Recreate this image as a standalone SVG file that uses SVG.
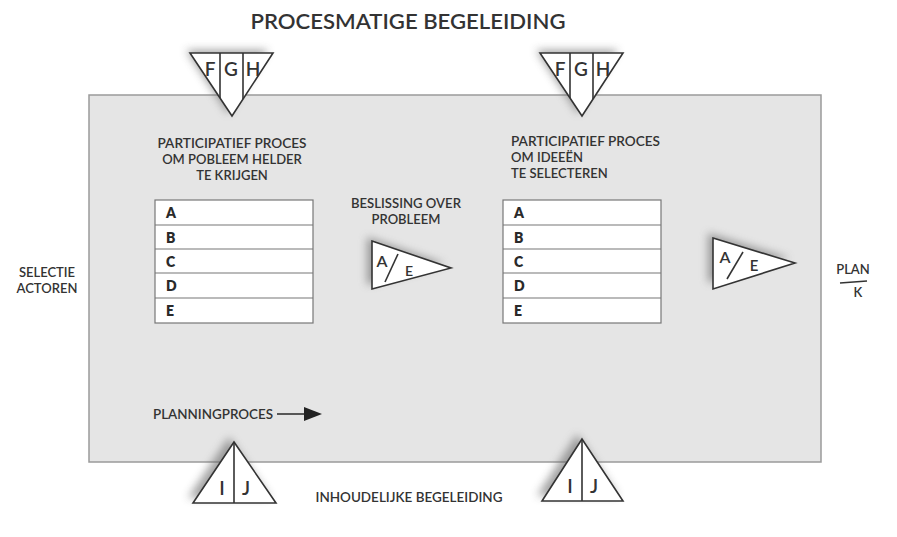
<svg xmlns="http://www.w3.org/2000/svg" width="897" height="537" viewBox="0 0 897 537">
<defs>
<style>
.t{font-family:Lato,"Open Sans","Liberation Sans",Arial,sans-serif;fill:#333333;font-weight:600;}
.lbl{font-size:13px;}
.tab{font-size:14px;font-weight:800;fill:#2a2a2a;}
.big{font-size:19px;}
.mid{font-size:16px;}
.shape{fill:#ffffff;stroke:#333;stroke-width:1.6;}
.ln{stroke:#333;stroke-width:1.6;fill:none;}
.row{fill:#fff;stroke:#777;stroke-width:1.2;}
.shd{fill:#666;opacity:0.6;}
</style>
<filter id="sh" x="-30%" y="-30%" width="160%" height="160%">
<feGaussianBlur stdDeviation="4"/>
</filter>
</defs>
<rect width="897" height="537" fill="#ffffff"/>
<text class="t" x="408" y="29" font-size="21" text-anchor="middle" textLength="315" lengthAdjust="spacingAndGlyphs">PROCESMATIGE BEGELEIDING</text>
<g id="panel">
<rect x="89" y="95" width="732" height="367" fill="#e5e5e5" stroke="#9a9a9a" stroke-width="1.5"/>
</g>
<g id="fgh-left">
<polygon class="shd" points="186,50 268,50 228,114" filter="url(#sh)"/>
<polygon class="shape" points="190,53 273,53 232,116"/>
<line class="ln" x1="220" y1="53" x2="220" y2="98"/>
<line class="ln" x1="243" y1="53" x2="243" y2="99"/>
<text class="t big" x="210" y="76" text-anchor="middle">F</text>
<text class="t big" x="231" y="76" text-anchor="middle">G</text>
<text class="t big" x="253" y="76" text-anchor="middle">H</text>
</g>
<g id="fgh-right">
<polygon class="shd" points="536,50 618,50 578,114" filter="url(#sh)"/>
<polygon class="shape" points="540,53 623,53 582,116"/>
<line class="ln" x1="570" y1="53" x2="570" y2="98"/>
<line class="ln" x1="593" y1="53" x2="593" y2="99"/>
<text class="t big" x="560" y="76" text-anchor="middle">F</text>
<text class="t big" x="581" y="76" text-anchor="middle">G</text>
<text class="t big" x="603" y="76" text-anchor="middle">H</text>
</g>
<g id="text-left">
<text class="t lbl" x="232" y="148" text-anchor="middle" textLength="149" lengthAdjust="spacingAndGlyphs">PARTICIPATIEF PROCES</text>
<text class="t lbl" x="232" y="164" text-anchor="middle">OM POBLEEM HELDER</text>
<text class="t lbl" x="232" y="180" text-anchor="middle">TE KRIJGEN</text>
</g>
<g id="text-right">
<text class="t lbl" x="511" y="146" textLength="149" lengthAdjust="spacingAndGlyphs">PARTICIPATIEF PROCES</text>
<text class="t lbl" x="511" y="162">OM IDEEËN</text>
<text class="t lbl" x="511" y="178">TE SELECTEREN</text>
</g>
<g id="table-left">
<rect class="row" x="155" y="200" width="158" height="123"/>
<line class="row" x1="155" y1="225" x2="313" y2="225"/>
<line class="row" x1="155" y1="249" x2="313" y2="249"/>
<line class="row" x1="155" y1="273" x2="313" y2="273"/>
<line class="row" x1="155" y1="298" x2="313" y2="298"/>
<text class="t tab" x="166" y="218">A</text>
<text class="t tab" x="166" y="243">B</text>
<text class="t tab" x="166" y="267">C</text>
<text class="t tab" x="166" y="291">D</text>
<text class="t tab" x="166" y="316">E</text>
</g>
<g id="table-right">
<rect class="row" x="503" y="200" width="158" height="123"/>
<line class="row" x1="503" y1="225" x2="661" y2="225"/>
<line class="row" x1="503" y1="249" x2="661" y2="249"/>
<line class="row" x1="503" y1="273" x2="661" y2="273"/>
<line class="row" x1="503" y1="298" x2="661" y2="298"/>
<text class="t tab" x="514" y="218">A</text>
<text class="t tab" x="514" y="243">B</text>
<text class="t tab" x="514" y="267">C</text>
<text class="t tab" x="514" y="291">D</text>
<text class="t tab" x="514" y="316">E</text>
</g>
<g id="beslissing">
<text class="t lbl" x="406" y="208" text-anchor="middle" textLength="110" lengthAdjust="spacingAndGlyphs">BESLISSING OVER</text>
<text class="t lbl" x="406" y="224" text-anchor="middle">PROBLEEM</text>
</g>
<g id="ae-left">
<polygon class="shd" points="367,237 445,264 367,285" filter="url(#sh)"/>
<polygon class="shape" points="372,241 451,268 372,289"/>
<line class="ln" x1="398" y1="254" x2="385" y2="282"/>
<text class="t mid" x="382" y="267" text-anchor="middle">A</text>
<text class="t" x="409" y="276" text-anchor="middle" font-size="14">E</text>
</g>
<g id="ae-right">
<polygon class="shd" points="708,233 789,258 708,283" filter="url(#sh)"/>
<polygon class="shape" points="713,238 795,263 713,289"/>
<line class="ln" x1="743" y1="252" x2="727" y2="279"/>
<text class="t mid" x="725" y="263" text-anchor="middle">A</text>
<text class="t" x="754" y="271" text-anchor="middle" font-size="15">E</text>
</g>
<g id="selectie">
<text class="t lbl" x="47" y="277" text-anchor="middle">SELECTIE</text>
<text class="t lbl" x="47" y="293" text-anchor="middle">ACTOREN</text>
</g>
<g id="plan">
<text class="t lbl" x="853" y="274" text-anchor="middle">PLAN</text>
<line class="ln" x1="840" y1="283" x2="867" y2="281"/>
<text class="t lbl" x="858" y="297" text-anchor="middle">K</text>
</g>
<g id="connectors">
<text class="t lbl" x="153" y="419" textLength="120" lengthAdjust="spacingAndGlyphs">PLANNINGPROCES</text>
<line class="ln" x1="277" y1="414" x2="305" y2="414"/>
<polygon points="304,407 322,414 304,421" fill="#222"/>
</g>
<g id="ij-left">
<polygon class="shd" points="229,437 188,498 270,498" filter="url(#sh)"/>
<polygon class="shape" points="234,442 193,503 276,503"/>
<line class="ln" x1="234" y1="442" x2="234" y2="503"/>
<text class="t big" x="222" y="495" text-anchor="middle">I</text>
<text class="t big" x="246" y="495" text-anchor="middle">J</text>
</g>
<g id="ij-right">
<polygon class="shd" points="577,434 537,496 618,496" filter="url(#sh)"/>
<polygon class="shape" points="582,439 542,501 623,501"/>
<line class="ln" x1="582" y1="439" x2="582" y2="501"/>
<text class="t big" x="570" y="493" text-anchor="middle">I</text>
<text class="t big" x="594" y="493" text-anchor="middle">J</text>
</g>
<text class="t lbl" x="409" y="502" text-anchor="middle" textLength="187" lengthAdjust="spacingAndGlyphs">INHOUDELIJKE BEGELEIDING</text>
</svg>
